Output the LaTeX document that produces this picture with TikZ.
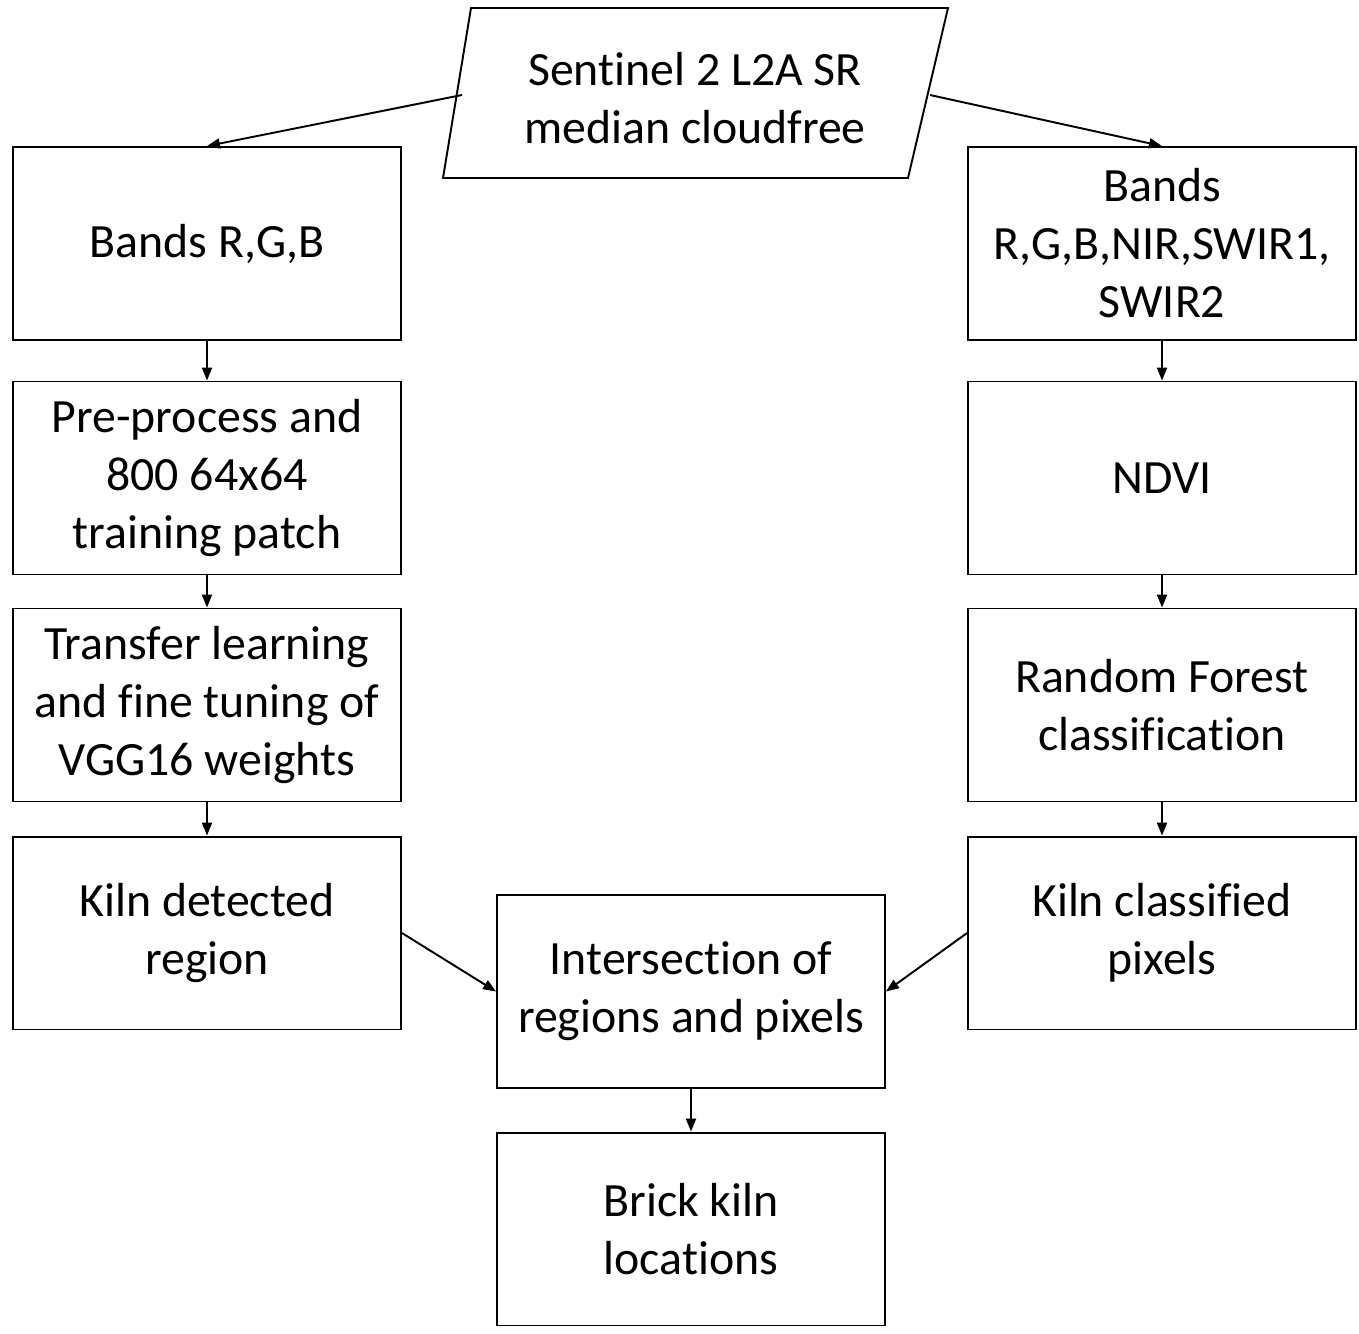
\documentclass[tikz,border=0pt]{standalone}
\usepackage{fontspec}
\setmainfont[RawFeature={-liga;-clig;-dlig;-rlig}]{Carlito}
\usetikzlibrary{arrows.meta}
\begin{document}
\begin{tikzpicture}[x=0.02cm,y=-0.02cm,
  box/.style={draw,line width=1.1pt,minimum width=7.76cm,minimum height=3.86cm,inner sep=0pt,align=center,font=\fontsize{27.2}{33}\selectfont},
  lbl/.style={inner sep=0pt,align=center,font=\fontsize{27.2}{33}\selectfont},
  arr/.style={line width=1.1pt,-{Triangle[length=0.26cm,width=0.2cm]}}]
\useasboundingbox (0,0) rectangle (1359,1333);
% source parallelogram
\coordinate (p1) at (471,8);
\coordinate (p2) at (948,8);
\coordinate (p3) at (908,178);
\coordinate (p4) at (443,178);
\draw[line width=1.1pt] (p1) -- (p2) -- (p3) -- (p4) -- cycle;
\node[lbl] (src) at (695,98) {Sentinel 2 L2A SR\\median cloudfree};
\coordinate (srcL) at (462,95);
\coordinate (srcR) at (930,95);
% left column
\node[box] (l1) at (207,243.5) {Bands R,G,B};
\node[box] (l2) at (207,478) {Pre-process and\\800 64x64\\training patch};
\node[box] (l3) at (207,705) {Transfer learning\\and fine tuning of\\VGG16 weights};
\node[box] (l4) at (207,933) {Kiln detected\\region};
% right column
\node[box] (r1) at (1162,243.5) {Bands\\R,G,B,NIR,SWIR1,\\SWIR2};
\node[box] (r2) at (1162,478) {NDVI};
\node[box] (r3) at (1162,705) {Random Forest\\classification};
\node[box] (r4) at (1162,933) {Kiln classified\\pixels};
% center
\node[box] (c1) at (691,991.5) {Intersection of\\regions and pixels};
\node[box] (c2) at (691,1229) {Brick kiln\\locations};
% connectors
\draw[arr] (srcL) -- (l1.north);
\draw[arr] (srcR) -- (r1.north);
\draw[arr] (l1) -- (l2);
\draw[arr] (l2) -- (l3);
\draw[arr] (l3) -- (l4);
\draw[arr] (r1) -- (r2);
\draw[arr] (r2) -- (r3);
\draw[arr] (r3) -- (r4);
\draw[arr] (l4.east) -- (c1.west);
\draw[arr] (r4.west) -- (c1.east);
\draw[arr] (c1) -- (c2);
\end{tikzpicture}
\end{document}
